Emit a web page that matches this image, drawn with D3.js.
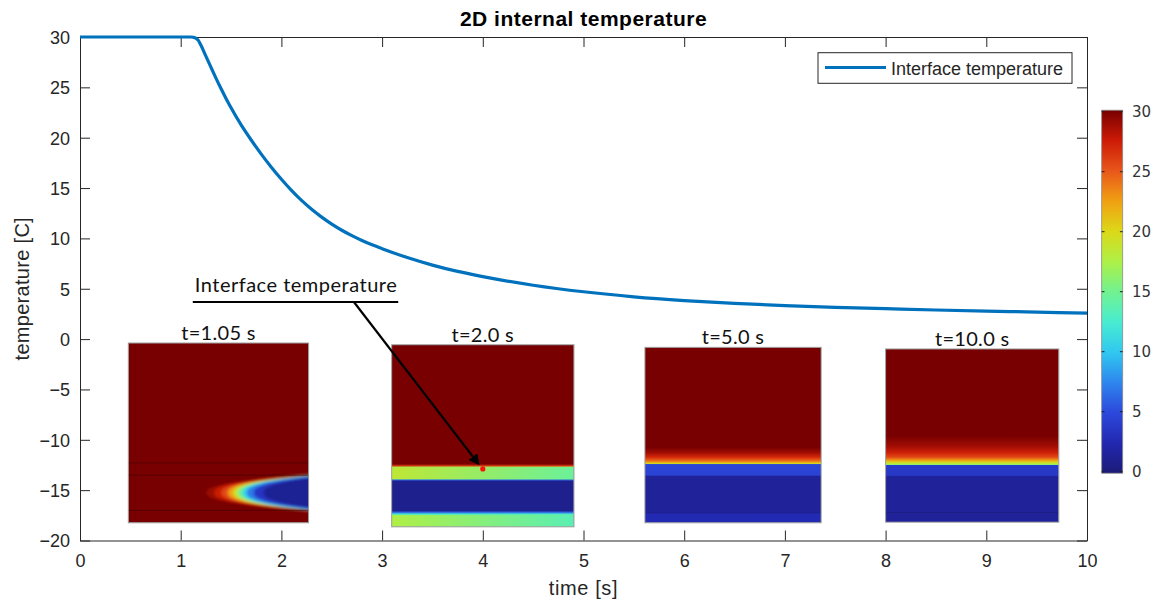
<!DOCTYPE html>
<html>
<head>
<meta charset="utf-8">
<script src="https://cdn.jsdelivr.net/npm/d3@7"></script>
<style>
  body { margin: 0; background: #fff; }
  svg { display: block; }
</style>
</head>
<body>
<svg id="chart" width="1156" height="604"></svg>
<script>
// ---------- interface temperature history ----------
const timeS = [0, 0.5, 1.0, 1.05, 1.1, 1.125, 1.15, 1.175, 1.2, 1.25, 1.3, 1.35, 1.4, 1.45, 1.5, 1.6, 1.7, 1.8, 1.9, 2.0, 2.1, 2.2,
  2.3, 2.4, 2.5, 2.6, 2.7, 2.8, 2.9, 3.0, 3.25, 3.5, 3.75, 4.0, 4.5, 5.0, 5.5, 6.0, 6.5, 7.0, 7.5, 8.0, 8.5, 9.0, 9.5, 10.0];
const interfaceT = [30, 30, 30, 30, 30, 29.97, 29.88, 29.66, 29.2, 28.1, 27.0, 25.92, 24.88, 23.9, 22.97, 21.27, 19.77, 18.37, 17.07, 15.87, 14.77, 13.77,
  12.89, 12.11, 11.42, 10.81, 10.27, 9.79, 9.36, 8.98, 8.1, 7.35, 6.72, 6.2, 5.35, 4.7, 4.2, 3.83, 3.55, 3.33, 3.16, 3.02, 2.89, 2.785, 2.68, 2.58];

const xTicks = [0, 1, 2, 3, 4, 5, 6, 7, 8, 9, 10];
const yTicks = [-20, -15, -10, -5, 0, 5, 10, 15, 20, 25, 30];

// ---------- colour map of the temperature fields ----------
const cbTicks = [0, 5, 10, 15, 20, 25, 30];
const cbStops = [0, 2.5, 5, 7.5, 10, 12.5, 15, 17.5, 20, 22.5, 25, 27.5, 30];
const cbColors = ["#1c1a78", "#2228b0", "#2c48dc", "#2e86ee", "#30c8f0", "#48ecd0", "#72f290",
  "#aef046", "#dcd818", "#f0a012", "#e8561a", "#cc1a06", "#780000"];

// ---------- field snapshots placed on the axes ----------
const snapLabels = ["t=1.05 s", "t=2.0 s", "t=5.0 s", "t=10.0 s"];
const snapT0 = [0.48, 3.095, 5.61, 8.0];
const snapT1 = [2.27, 4.905, 7.36, 9.72];
const snapTop = [-0.39, -0.56, -0.82, -0.98];
const snapBottom = [-18.24, -18.64, -18.24, -18.18];

// vertical temperature profiles: [depth fraction, temperature]
const profile105 = [[0, 30], [1, 30]];
const profile20 = [[0, 30], [0.655, 30], [0.666, 26], [0.672, 17], [0.738, 15], [0.742, 6], [0.75, 1],
  [0.912, 1], [0.92, 6], [0.93, 12], [0.936, 15], [1, 15]];
const profile50 = [[0, 30], [0.57, 30], [0.6, 28.8], [0.625, 27], [0.645, 24.5], [0.658, 21.5], [0.664, 19],
  [0.668, 4.8], [0.728, 4.6], [0.735, 1.5], [0.94, 1.5], [0.944, 0.5], [0.948, 2.6], [1, 2.6]];
const profile100 = [[0, 30], [0.5, 30], [0.56, 28.8], [0.6, 27.2], [0.625, 25.5], [0.64, 23], [0.652, 20.5],
  [0.662, 18], [0.667, 16.5], [0.67, 3.9], [0.73, 3.7], [0.736, 1.5], [0.94, 1.5], [0.944, 0.5], [0.948, 1.5], [1, 1.5]];
const profiles = [profile105, profile20, profile50, profile100];

// layers whose temperature changes from left to right: [snapshot, top, bottom, left T, right T]
const lateralBands = [[1, 0.672, 0.738, 18.4, 14.6], [1, 0.936, 1.0, 17.6, 13.6]];

// material interfaces drawn as thin dark lines at t=1.05 s
const layerLines105 = [0.667, 0.735, 0.931];

// cold front entering from the right at t=1.05 s: level, tip position, half height at the right edge
const frontCentre = 0.833;
const frontLevels = [29, 27.5, 25.5, 22.5, 19, 15, 11, 7, 3.5, 1.2];
const frontTip = [0.43, 0.475, 0.515, 0.55, 0.58, 0.605, 0.63, 0.655, 0.695, 0.75];
const frontHalf = [0.1, 0.1, 0.099, 0.099, 0.098, 0.097, 0.096, 0.093, 0.088, 0.082];

// ---------- annotation ----------
const noteText = "Interface temperature";
const noteT = [1.14, 3.16];      // text start / underline end (time)
const noteBaseline = 4.7;        // temperature of the text baseline
const noteLine = 3.68;           // temperature of the underline
const arrowFrom = [2.72, 3.68];
const arrowTo = [3.955, -12.36];
const probe = [4.0, -12.89];

// ---------- drawing ----------
const svg = d3.select("#chart");
const x = d3.scaleLinear().domain([0, 10]).range([80, 1087]);
const y = d3.scaleLinear().domain([-20, 30]).range([540.5, 37]);
const color = d3.scaleLinear().domain(cbStops).range(cbColors).interpolate(d3.interpolateRgb).clamp(true);

const defs = svg.append("defs");
const axisFont = "'Liberation Sans', Arial, Helvetica, sans-serif";
const noteFont = "Lato, 'Noto Sans', sans-serif";
const ink = "#262626";

defs.append("filter").attr("id", "soft")
  .attr("x", "-10%").attr("y", "-10%").attr("width", "120%").attr("height", "120%")
  .append("feGaussianBlur").attr("stdDeviation", 1.8);

// snapshots
snapLabels.forEach((lab, i) => {
  const x0 = x(snapT0[i]), x1 = x(snapT1[i]);
  const y0 = y(snapTop[i]), y1 = y(snapBottom[i]);
  const w = x1 - x0, h = y1 - y0;
  const u = d3.scaleLinear().domain([0, 1]).range([0, w]);
  const v = d3.scaleLinear().domain([0, 1]).range([0, h]);

  const gid = "prof" + i;
  const grad = defs.append("linearGradient").attr("id", gid)
    .attr("x1", 0).attr("y1", 0).attr("x2", 0).attr("y2", 1);
  profiles[i].forEach(([f, t]) => grad.append("stop").attr("offset", f).attr("stop-color", color(t)));

  defs.append("clipPath").attr("id", "clip" + i)
    .append("rect").attr("width", w).attr("height", h);

  const g = svg.append("g").attr("transform", `translate(${x0},${y0})`);
  const body = g.append("g").attr("clip-path", `url(#clip${i})`);
  body.append("rect").attr("width", w).attr("height", h).attr("fill", `url(#${gid})`);

  lateralBands.filter(b => b[0] === i).forEach((b, k) => {
    const lid = `lat${i}_${k}`;
    const lg = defs.append("linearGradient").attr("id", lid).attr("x1", 0).attr("y1", 0).attr("x2", 1).attr("y2", 0);
    lg.append("stop").attr("offset", 0).attr("stop-color", color(b[3]));
    lg.append("stop").attr("offset", 1).attr("stop-color", color(b[4]));
    body.append("rect").attr("x", 0).attr("y", v(b[1])).attr("width", w).attr("height", v(b[2]) - v(b[1]))
      .attr("fill", `url(#${lid})`);
  });

  if (i === 0) {
    const front = body.append("g").attr("filter", "url(#soft)");
    frontLevels.forEach((lvl, k) => {
      const tip = frontTip[k], half = frontHalf[k];
      const us = d3.range(0, 61).map(n => tip + (1.03 - tip) * n / 60);
      const hh = uu => half * Math.pow(Math.max(0, uu - tip) / (1 - tip), 0.42);
      const area = d3.area()
        .x(d => u(d))
        .y0(d => v(frontCentre - hh(d)))
        .y1(d => v(frontCentre + hh(d)));
      front.append("path").attr("d", area(us)).attr("fill", color(lvl));
    });
    layerLines105.forEach(f => {
      body.append("line").attr("x1", 0).attr("x2", w).attr("y1", v(f)).attr("y2", v(f))
        .attr("stroke", "#3a0000").attr("stroke-opacity", 0.55).attr("stroke-width", 1);
    });
  }

  g.append("rect").attr("width", w).attr("height", h)
    .attr("fill", "none").attr("stroke", "#9a9a9a").attr("stroke-width", 1);

  svg.append("text").attr("x", (x0 + x1) / 2).attr("y", y0 - 3)
    .attr("text-anchor", "middle").attr("font-family", noteFont).attr("font-size", 20)
    .attr("letter-spacing", 0.3).attr("fill", "#111").text(lab);
});

// axes box with inward ticks on all sides
const axG = svg.append("g").attr("font-family", axisFont);
const bottomAxis = axG.append("g").attr("transform", `translate(0,${y(-20)})`)
  .call(d3.axisBottom(x).tickValues(xTicks).tickSizeInner(-10).tickSizeOuter(0).tickPadding(14));
const topAxis = axG.append("g").attr("transform", `translate(0,${y(30)})`)
  .call(d3.axisTop(x).tickValues(xTicks).tickSizeInner(-10).tickSizeOuter(0).tickFormat(""));
const leftAxis = axG.append("g").attr("transform", `translate(${x(0)},0)`)
  .call(d3.axisLeft(y).tickValues(yTicks).tickSizeInner(-10).tickSizeOuter(0).tickPadding(10));
const rightAxis = axG.append("g").attr("transform", `translate(${x(10)},0)`)
  .call(d3.axisRight(y).tickValues(yTicks).tickSizeInner(-10).tickSizeOuter(0).tickFormat(""));
[bottomAxis, topAxis, leftAxis, rightAxis].forEach(a => {
  a.selectAll("path, line").attr("stroke", ink).attr("stroke-width", 1);
  a.selectAll("text").attr("fill", ink).attr("font-size", 18).attr("font-family", axisFont);
});
leftAxis.selectAll("text").attr("dy", "0.36em");

// curve
const line = d3.line().x((d, k) => x(timeS[k])).y(d => y(d)).curve(d3.curveMonotoneX);
svg.append("path").attr("d", line(interfaceT))
  .attr("fill", "none").attr("stroke", "#0072BD").attr("stroke-width", 3.2)
  .attr("stroke-linejoin", "round");

// title and axis labels
svg.append("text").attr("x", (x(0) + x(10)) / 2).attr("y", 26).attr("text-anchor", "middle")
  .attr("font-family", axisFont).attr("font-size", 21).attr("font-weight", "bold")
  .attr("letter-spacing", 0.5).attr("fill", "#000").text("2D internal temperature");
svg.append("text").attr("x", (x(0) + x(10)) / 2).attr("y", 595).attr("text-anchor", "middle")
  .attr("font-family", axisFont).attr("font-size", 20).attr("letter-spacing", 0.6)
  .attr("fill", ink).text("time [s]");
svg.append("text").attr("transform", `translate(29,${(y(30) + y(-20)) / 2}) rotate(-90)`)
  .attr("text-anchor", "middle").attr("font-family", axisFont).attr("font-size", 20)
  .attr("letter-spacing", 0.3).attr("fill", ink).text("temperature [C]");

// legend
const leg = svg.append("g");
leg.append("rect").attr("x", 818).attr("y", 52.7).attr("width", 254).attr("height", 30.6)
  .attr("fill", "#fff").attr("stroke", ink).attr("stroke-width", 1);
leg.append("line").attr("x1", 825).attr("x2", 886).attr("y1", 67.5).attr("y2", 67.5)
  .attr("stroke", "#0072BD").attr("stroke-width", 3.2);
leg.append("text").attr("x", 891).attr("y", 74.5).attr("font-family", axisFont).attr("font-size", 18)
  .attr("fill", ink).text("Interface temperature");

// annotation
svg.append("text").attr("x", x(noteT[0])).attr("y", y(noteBaseline)).attr("font-family", noteFont)
  .attr("font-size", 20).attr("letter-spacing", 0.5).attr("fill", "#111").text(noteText);
svg.append("line").attr("x1", x(noteT[0]) - 2).attr("x2", x(noteT[1])).attr("y1", y(noteLine)).attr("y2", y(noteLine))
  .attr("stroke", "#000").attr("stroke-width", 2);
defs.append("marker").attr("id", "arrow").attr("viewBox", "0 0 10 10").attr("refX", 8).attr("refY", 5)
  .attr("markerWidth", 5).attr("markerHeight", 5).attr("orient", "auto-start-reverse")
  .append("path").attr("d", "M0,0 L10,5 L0,10 z").attr("fill", "#000");
svg.append("line").attr("x1", x(arrowFrom[0])).attr("y1", y(arrowFrom[1]))
  .attr("x2", x(arrowTo[0])).attr("y2", y(arrowTo[1]))
  .attr("stroke", "#000").attr("stroke-width", 2.2).attr("marker-end", "url(#arrow)");
svg.append("circle").attr("cx", x(probe[0])).attr("cy", y(probe[1])).attr("r", 2.6).attr("fill", "#ff1010");

// colour bar
const cb = d3.scaleLinear().domain([0, 30]).range([471.7, 111.7]);
const cbGrad = defs.append("linearGradient").attr("id", "cbgrad").attr("x1", 0).attr("y1", 1).attr("x2", 0).attr("y2", 0);
cbStops.forEach((s, k) => cbGrad.append("stop").attr("offset", s / 30).attr("stop-color", cbColors[k]));
svg.append("rect").attr("x", 1101.7).attr("y", cb(30) - 1.5).attr("width", 21).attr("height", cb(0) - cb(30) + 3)
  .attr("fill", "url(#cbgrad)").attr("stroke", "#8a8a8a").attr("stroke-width", 0.8);
const cbG = svg.append("g");
cbTicks.forEach(t => {
  cbG.append("line").attr("x1", 1101.7).attr("x2", 1104.5).attr("y1", cb(t)).attr("y2", cb(t)).attr("stroke", "#222");
  cbG.append("line").attr("x1", 1119.9).attr("x2", 1122.7).attr("y1", cb(t)).attr("y2", cb(t)).attr("stroke", "#222");
  cbG.append("text").attr("x", 1132).attr("y", cb(t)).attr("dy", "0.36em")
    .attr("font-family", "'DejaVu Sans', Verdana, sans-serif").attr("font-size", 15)
    .attr("fill", "#333").text(t);
});
</script>
</body>
</html>
